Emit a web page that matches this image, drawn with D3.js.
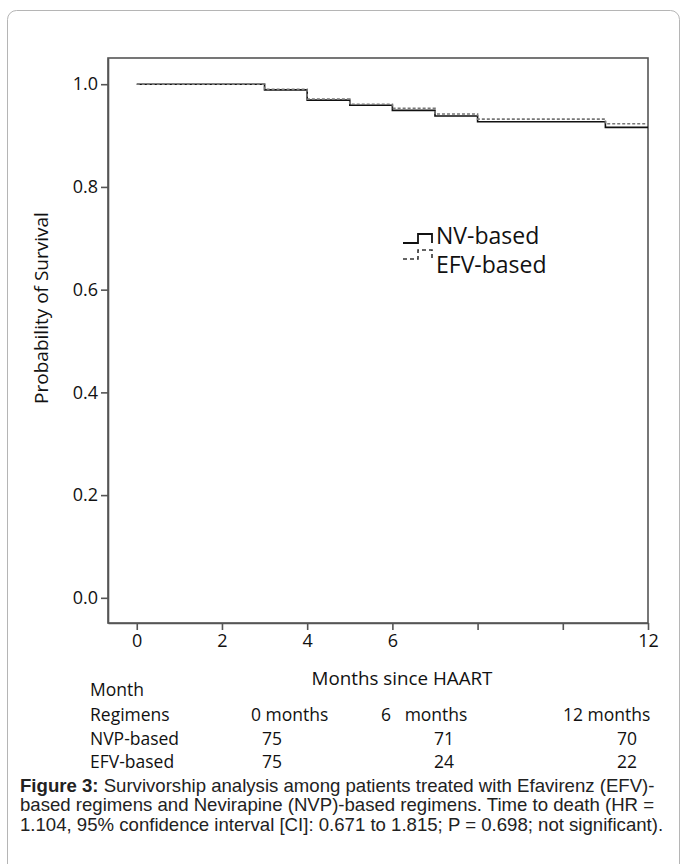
<!DOCTYPE html>
<html>
<head>
<meta charset="utf-8">
<script src="https://cdn.jsdelivr.net/npm/d3@7"></script>
<style>
  html, body { margin: 0; padding: 0; background: #fff; }
  svg { display: block; }
</style>
</head>
<body>
<script>
// ---------------- DATA ----------------
const months   = [0, 3, 4, 5, 6, 7, 8, 11, 12];
const nvpSurv  = [1.000, 0.989, 0.969, 0.959, 0.949, 0.938, 0.927, 0.916, 0.916];
const efvSurv  = [1.000, 0.990, 0.971, 0.961, 0.953, 0.942, 0.932, 0.923, 0.923];
const yTicks   = [0.0, 0.2, 0.4, 0.6, 0.8, 1.0];
const xTicks   = [0, 2, 4, 6, 8, 10, 12];
const xTickLabels = ["0", "2", "4", "6", "", "", "12"];
const seriesNames = ["NV-based", "EFV-based"];
const tableCols   = ["0 months", "6   months", "12 months"];
const tableRows   = ["NVP-based", "EFV-based"];
const nvpAtRisk   = [75, 71, 70];
const efvAtRisk   = [75, 24, 22];
const captionBold = "Figure 3:";
const captionLines = [
  " Survivorship analysis among patients treated with Efavirenz (EFV)-",
  "based regimens and Nevirapine (NVP)-based regimens. Time to death (HR =",
  "1.104, 95% confidence interval [CI]: 0.671 to 1.815; P = 0.698; not significant)."
];

// ---------------- LAYOUT ----------------
const W = 683, H = 864;
const plot = { left: 108, right: 648, top: 58, bottom: 623 };
const chartFont = "'Open Sans', 'Noto Sans', sans-serif";
const capFont = "'Liberation Sans', Arial, sans-serif";

const svg = d3.select("body").append("svg")
  .attr("width", W).attr("height", H)
  .style("background", "#fff");

// outer rounded frame
svg.append("rect")
  .attr("x", 7.5).attr("y", 10.5)
  .attr("width", 672).attr("height", 880)
  .attr("rx", 9).attr("ry", 9)
  .attr("fill", "none").attr("stroke", "#b5b5b5").attr("stroke-width", 1);

const x = d3.scaleLinear().domain([-0.675, 12]).range([plot.left, plot.right]);
const y = d3.scaleLinear().domain([-0.049, 1.051]).range([plot.bottom, plot.top]);

// plot frame (top/right)
svg.append("rect")
  .attr("x", plot.left).attr("y", plot.top)
  .attr("width", plot.right - plot.left).attr("height", plot.bottom - plot.top)
  .attr("fill", "none").attr("stroke", "#555").attr("stroke-width", 1.6);

// y axis
const gy = svg.append("g")
  .attr("transform", `translate(${plot.left},0)`)
  .call(d3.axisLeft(y).tickValues(yTicks).tickFormat(d3.format(".1f"))
        .tickSize(7).tickSizeOuter(0).tickPadding(3));
// x axis
const gx = svg.append("g")
  .attr("transform", `translate(0,${plot.bottom})`)
  .call(d3.axisBottom(x).tickValues(xTicks).tickFormat((d, i) => xTickLabels[i])
        .tickSize(7).tickSizeOuter(0).tickPadding(4));

[gx, gy].forEach(g => {
  g.select(".domain").attr("stroke", "#555").attr("stroke-width", 1.6);
  g.selectAll(".tick line").attr("stroke", "#555").attr("stroke-width", 1.6);
  g.selectAll(".tick text").attr("fill", "#111")
    .style("font-family", chartFont).style("font-size", "18px");
});

// curves
const line = d3.line()
  .x((d, i) => x(months[i]))
  .y(d => y(d))
  .curve(d3.curveStepAfter);

svg.append("path").datum(nvpSurv)
  .attr("d", line).attr("fill", "none")
  .attr("stroke", "#111").attr("stroke-width", 1.6);
svg.append("path").datum(efvSurv)
  .attr("d", line).attr("fill", "none")
  .attr("stroke", "#777").attr("stroke-width", 1.6)
  .attr("stroke-dasharray", "3,2");

// legend
const lg = svg.append("g");
const sym = "M403,243 H418 V234 H432 V243";
lg.append("path").attr("d", sym).attr("fill", "none")
  .attr("stroke", "#111").attr("stroke-width", 1.8);
lg.append("path").attr("d", sym).attr("transform", "translate(0,16)")
  .attr("fill", "none").attr("stroke", "#333").attr("stroke-width", 1.6)
  .attr("stroke-dasharray", "4,3");
lg.selectAll("text.leg").data(seriesNames).enter().append("text")
  .attr("x", 436).attr("y", (d, i) => 244 + i * 29)
  .style("font-family", chartFont).style("font-size", "23px")
  .attr("fill", "#111").text(d => d);

// axis titles
svg.append("text")
  .attr("transform", "translate(48,308) rotate(-90)")
  .attr("text-anchor", "middle")
  .style("font-family", chartFont).style("font-size", "19px")
  .attr("fill", "#111").text("Probability of Survival");
svg.append("text")
  .attr("x", 402).attr("y", 685).attr("text-anchor", "middle")
  .style("font-family", chartFont).style("font-size", "18.8px")
  .attr("fill", "#111").text("Months since HAART");

// at-risk table
function T(xp, yp, txt, anchor) {
  svg.append("text").attr("x", xp).attr("y", yp)
    .attr("text-anchor", anchor || "start")
    .style("font-family", chartFont).style("font-size", "17.5px")
    .style("white-space", "pre")
    .attr("fill", "#111").text(txt);
}
T(90, 696, "Month");
T(90, 721, "Regimens");
const colX = [251, 381, 563];
tableCols.forEach((c, i) => T(colX[i], 721, c, "start"));
const numX = [272, 444, 627];
T(90, 745, tableRows[0]);
nvpAtRisk.forEach((v, i) => T(numX[i], 745, String(v), "middle"));
T(90, 768, tableRows[1]);
efvAtRisk.forEach((v, i) => T(numX[i], 768, String(v), "middle"));

// caption
const capSize = "18.6px";
const cap = svg.append("g");
const c0 = cap.append("text").attr("x", 20).attr("y", 792)
  .style("font-family", capFont).style("font-size", capSize).attr("fill", "#222");
c0.append("tspan").style("font-weight", "bold").text(captionBold);
c0.append("tspan").text(captionLines[0]);
captionLines.slice(1).forEach((l, i) => {
  cap.append("text").attr("x", 20).attr("y", 811 + i * 19.5)
    .style("font-family", capFont).style("font-size", capSize).attr("fill", "#222")
    .text(l);
});
</script>
</body>
</html>
